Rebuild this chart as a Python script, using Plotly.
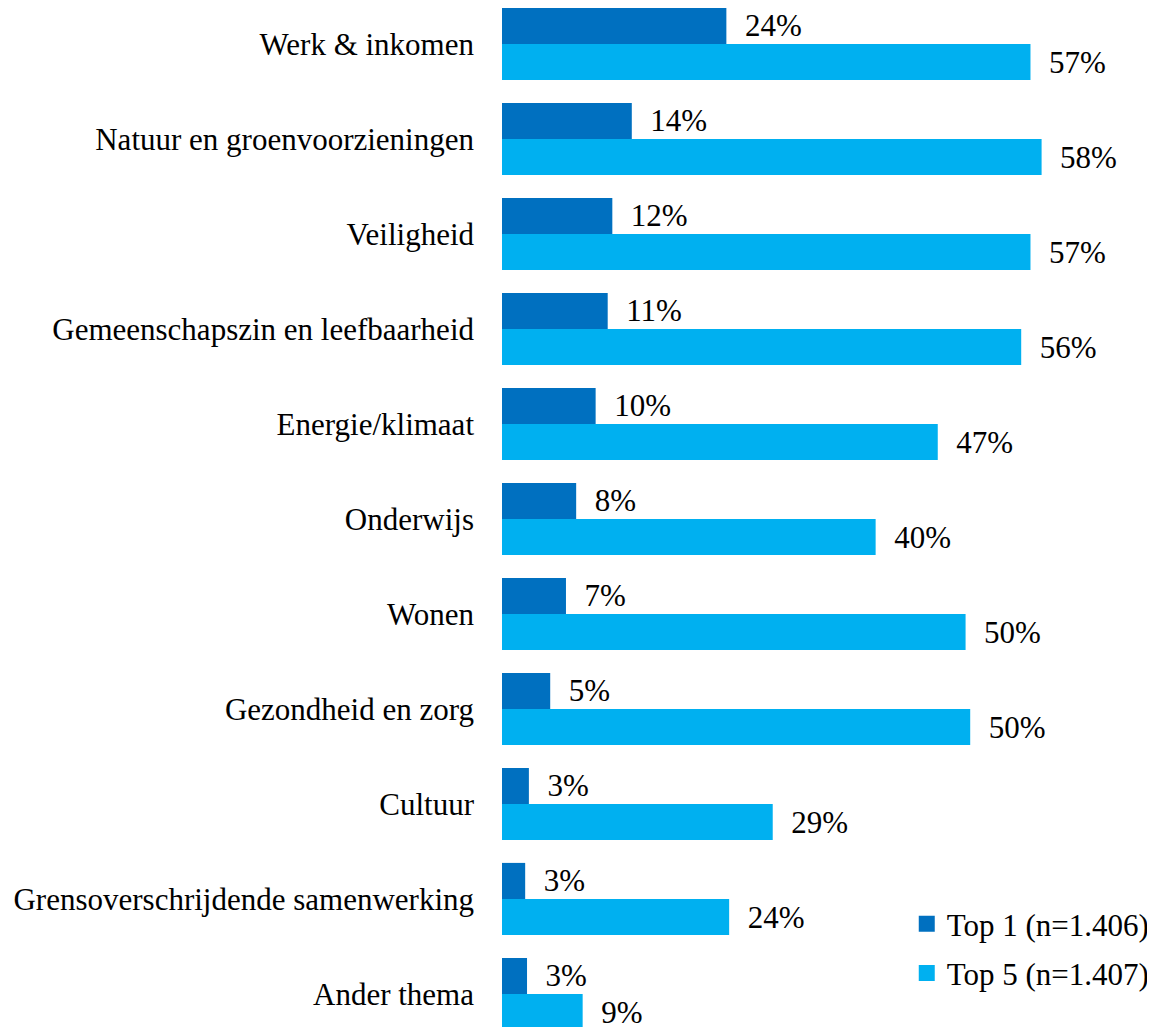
import plotly.graph_objects as go

categories = [
    "Werk & inkomen",
    "Natuur en groenvoorzieningen",
    "Veiligheid",
    "Gemeenschapszin en leefbaarheid",
    "Energie/klimaat",
    "Onderwijs",
    "Wonen",
    "Gezondheid en zorg",
    "Cultuur",
    "Grensoverschrijdende samenwerking",
    "Ander thema",
]
top1_values = [24.2, 14.0, 11.9, 11.4, 10.1, 8.0, 6.9, 5.2, 2.9, 2.5, 2.7]
top1_labels = ["24%", "14%", "12%", "11%", "10%", "8%", "7%", "5%", "3%", "3%", "3%"]
top5_values = [57.0, 58.2, 57.0, 56.0, 47.0, 40.3, 50.0, 50.5, 29.2, 24.5, 8.7]
top5_labels = ["57%", "58%", "57%", "56%", "47%", "40%", "50%", "50%", "29%", "24%", "9%"]
series_names = ["Top 1 (n=1.406)", "Top 5 (n=1.407)"]

FONT = "Liberation Serif, Times New Roman, serif"
FS = 31
DARK = "#0070C0"
LIGHT = "#00B0F0"
W, H = 1147, 1019          # page has an 8px body margin
L = 494
px_per_pct = 9.3
band = 95.0

fig = go.Figure()
for vals, labels, name, color in [
    (top1_values, top1_labels, series_names[0], DARK),
    (top5_values, top5_labels, series_names[1], LIGHT),
]:
    fig.add_trace(go.Bar(
        y=categories, x=vals, orientation="h", name=name, showlegend=False,
        marker=dict(color=color, line=dict(width=0)),
        text=labels, texttemplate="  %{text}", textposition="outside",
        cliponaxis=False,
        textfont=dict(family=FONT, size=FS, color="#000000"),
    ))
for i, (name, color) in enumerate(zip(series_names, [DARK, LIGHT])):
    fig.add_trace(go.Scatter(
        x=[None], y=[None], mode="markers", name=name,
        legendgroup=f"g{i}",
        marker=dict(symbol="square", size=16, color=color),
    ))

top_units = 36 / band
bot_units = (H - 986) / band
fig.update_layout(
    width=W, height=H,
    margin=dict(l=L, r=0, t=0, b=0),
    barmode="group", bargap=0.24, bargroupgap=0,
    plot_bgcolor="white", paper_bgcolor="white",
    font=dict(family=FONT, size=FS, color="#000000"),
    showlegend=True,
    legend=dict(
        x=(900 - L) / (W - L), y=(H - 889) / H, xanchor="left", yanchor="top",
        font=dict(family=FONT, size=FS, color="#000000"),
        bgcolor="rgba(0,0,0,0)", tracegroupgap=6,
    ),
    xaxis=dict(range=[0, (W - L) / px_per_pct], visible=False, fixedrange=True),
    yaxis=dict(
        range=[len(categories) - 1 + bot_units, -top_units],
        showline=False, showgrid=False, zeroline=False,
        ticks="", ticklabelstandoff=27,
        tickfont=dict(family=FONT, size=FS, color="#000000"),
        categoryorder="array", categoryarray=categories,
    ),
)

fig.write_html("out.html")
